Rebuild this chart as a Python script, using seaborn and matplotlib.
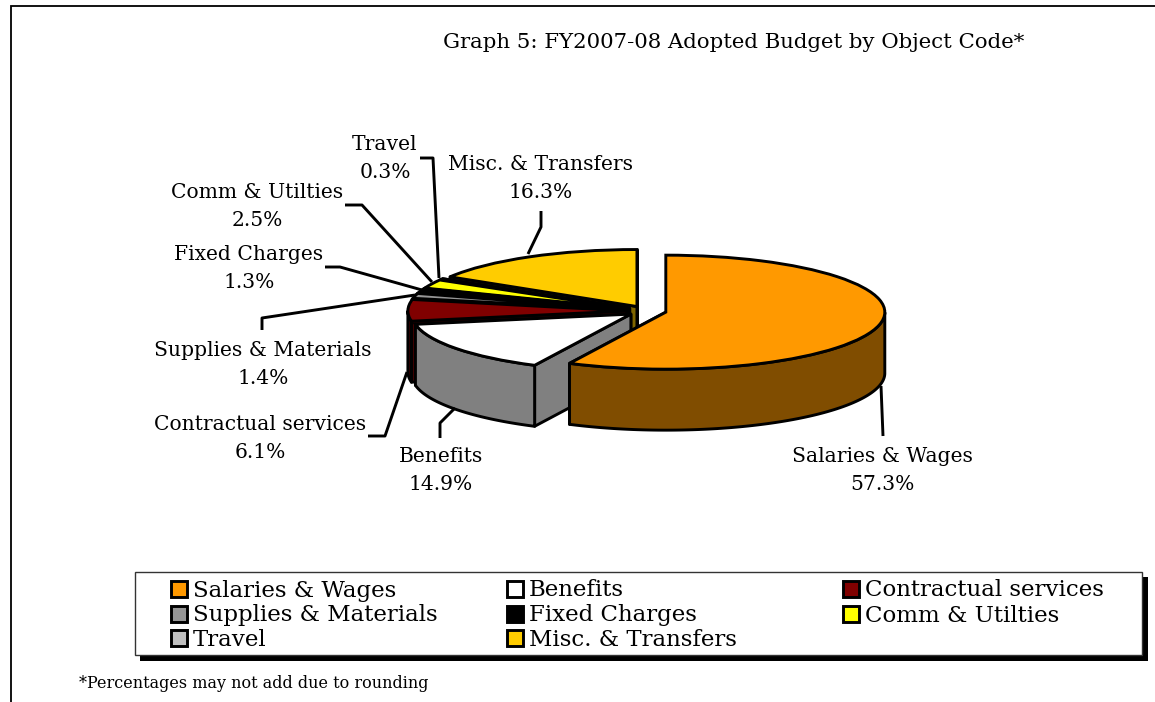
import numpy as np
import matplotlib.pyplot as plt
import seaborn as sns
from matplotlib.patches import Rectangle

categories = [
    "Salaries & Wages",
    "Benefits",
    "Contractual services",
    "Supplies & Materials",
    "Fixed Charges",
    "Comm & Utilties",
    "Travel",
    "Misc. & Transfers",
]
shares = [57.3, 14.9, 6.1, 1.4, 1.3, 2.5, 0.3, 16.3]
slice_colors = ["#FF9900", "#FFFFFF", "#800000", "#969696", "#000000", "#FFFF00", "#C0C0C0", "#FFCC00"]

title = "Graph 5: FY2007-08 Adopted Budget by Object Code*"
footnote = "*Percentages may not add due to rounding"

# Label centres and leader lines, in pixels of the 1155x702 picture.
label_xy = [(882, 456), (441, 457), (260, 424), (263, 350), (249, 254), (257, 192), (385, 144), (541, 164)]
leaders = [
    [(881, 386), (883, 436)],
    [(455, 408), (440, 423), (440, 438)],
    [(407, 372), (385, 436), (368, 436)],
    [(415, 295), (262, 318), (262, 330)],
    [(422, 290), (340, 267), (325, 267)],
    [(432, 282), (362, 205), (345, 205)],
    [(439, 278), (433, 158), (420, 158)],
    [(528, 254), (541, 227), (541, 211)],
]

W, H = 1155, 702
CX, CY, RX, RY = 646.6, 311.0, 219.0, 57.0
DEPTH = 61 / RY
EXPLODE = 0.09
LW = 2.1

sns.set_style("white")
plt.rcParams["font.family"] = ["DejaVu Serif"]
plt.rcParams["text.color"] = "black"
palette = sns.color_palette(slice_colors)

fig = plt.figure(figsize=(W / 100, H / 100), dpi=100)

# The pie lives in an axes squashed so that the unit circle becomes the ellipse.
ax = fig.add_axes([0, 0, 1, 1])
wedges, _ = ax.pie(
    shares,
    colors=palette,
    explode=[EXPLODE] * len(shares),
    startangle=90,
    counterclock=False,
    wedgeprops=dict(edgecolor="black", linewidth=LW),
)
ax.set_aspect("auto")
ax.set_xlim(-CX / RX, (W - CX) / RX)
ax.set_ylim((CY - H) / RY, CY / RY)

# Extrude each slice downwards, back to front.
for i, (w, col) in enumerate(zip(wedges, palette)):
    z = 2 * (len(wedges) - i)
    w.set_zorder(z + 1)
    wall = tuple(np.array(col) * 0.5)
    cx, cy = w.center
    style = dict(facecolor=wall, edgecolor="black", linewidth=LW, joinstyle="round")
    for t in (w.theta1, w.theta2):
        rx = cx + np.cos(np.radians(t))
        ry = cy + np.sin(np.radians(t))
        ax.fill([cx, rx, rx, cx], [cy, ry, ry - DEPTH, cy - DEPTH], zorder=z, **style)
    t = np.radians(np.linspace(w.theta1, w.theta2, 300))
    t = t[np.sin(t) < 0]
    if len(t):
        x = cx + np.cos(t)
        y = cy + np.sin(t)
        ax.fill(np.r_[x, x[::-1]], np.r_[y, y[::-1] - DEPTH], zorder=z, **style)

# Everything else sits on a pixel-scaled overlay.
ov = fig.add_axes([0, 0, 1, 1])
ov.set_xlim(0, W)
ov.set_ylim(H, 0)
ov.axis("off")
ov.patch.set_alpha(0)

ov.plot([11, 11, W], [H, 6, 6], color="black", lw=1.3, solid_joinstyle="miter")

for pts in leaders:
    xs, ys = zip(*pts)
    ov.plot(xs, ys, color="black", lw=LW, solid_capstyle="butt")

for name, share, (x, y) in zip(categories, shares, label_xy):
    ov.text(x, y, name, ha="center", va="center", fontsize=14.6)
    ov.text(x, y + 28, f"{share:.1f}%", ha="center", va="center", fontsize=14.6)

ov.text(443, 42, title, ha="left", va="center", fontsize=15.3)
ov.text(79, 683, footnote, ha="left", va="center", fontsize=11.5)

# Legend box with its hard drop shadow, three columns filled row by row.
ov.add_patch(Rectangle((140, 577), 1008, 84, facecolor="black", edgecolor="none"))
ov.add_patch(Rectangle((135, 572), 1007, 83, facecolor="white", edgecolor="#333333", lw=1))
col_x = [171, 507, 843]
row_y = [589, 614, 638]
for i, (name, col) in enumerate(zip(categories, palette)):
    x, y = col_x[i % 3], row_y[i // 3]
    ov.add_patch(Rectangle((x, y - 8), 16, 16, facecolor=col, edgecolor="black", lw=LW))
    ov.text(x + 22, y + 1.5, name, ha="left", va="center", fontsize=16.5)

fig.savefig("out.png", dpi=100)
